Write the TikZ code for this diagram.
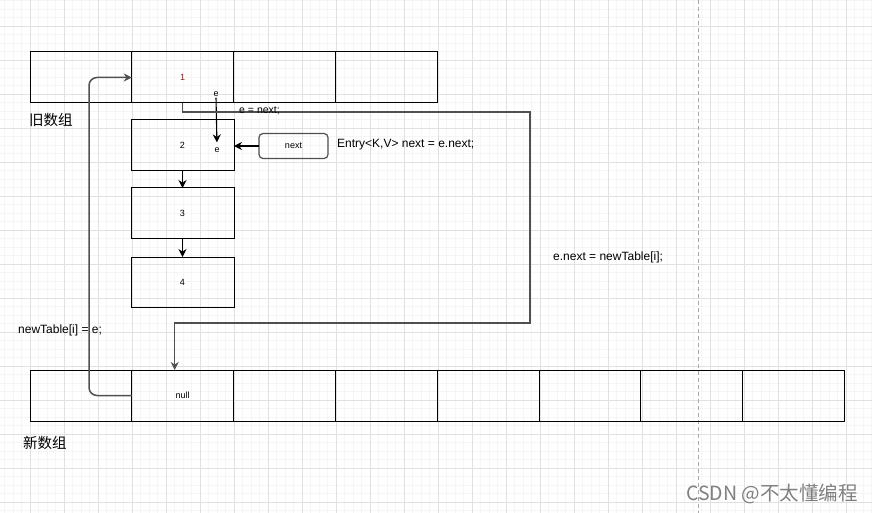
\documentclass[tikz,border=0pt]{standalone}
\usepackage{fontspec}
\setmainfont{Liberation Sans}
\newfontfamily\cjk{Noto Sans CJK SC}
\usetikzlibrary{arrows.meta}
\definecolor{minorc}{RGB}{245,245,245}
\definecolor{majorc}{RGB}{225,225,225}
\definecolor{dashc}{RGB}{170,170,170}
\definecolor{linkc}{RGB}{80,80,80}
\definecolor{numc}{RGB}{120,40,30}
\tikzset{
  cell/.style={draw=black, line width=1pt, minimum width=101.8pt, minimum height=51pt, inner sep=0pt, outer sep=0pt, anchor=north west, font=\fontsize{9}{10}\selectfont},
  chainbox/.style={draw=black, line width=1pt, minimum width=103pt, minimum height=51pt, inner sep=0pt, outer sep=0pt, anchor=north west, font=\fontsize{9}{10}\selectfont},
  small/.style={inner sep=1pt, font=\fontsize{9}{10}\selectfont},
  label/.style={inner sep=0pt, font=\fontsize{12}{14}\selectfont},
  cjklabel/.style={inner sep=0pt, font=\cjk\fontsize{14.5}{16}\selectfont},
  link/.style={draw=linkc, line width=1.5pt},
  arr/.style={-{Stealth[length=8pt,width=8pt]}},
}
\begin{document}
\begin{tikzpicture}[x=1pt,y=-1pt]
\useasboundingbox (0,0) rectangle (872,513);
\fill[white] (0,0) rectangle (872,513);
% grid
\foreach \i in {0,...,102} {\draw[minorc, line width=0.6pt] (4.5+\i*8.5,0) -- ++(0,513);}
\foreach \i in {0,...,60} {\draw[minorc, line width=0.6pt] (0,0.5+\i*8.5) -- ++(872,0);}
\foreach \i in {0,...,25} {\draw[majorc, line width=0.8pt] (30+\i*34,0) -- ++(0,513);}
\foreach \i in {0,...,14} {\draw[majorc, line width=0.8pt] (0,26.5+\i*34) -- ++(872,0);}
\draw[dashc, line width=0.9pt, dash pattern=on 4pt off 3pt] (698.5,0) -- (698.5,513);

% old array
\node[cell] (o0) at (30,52) {};
\node[cell, text=numc] (o1) at (o0.north east) {1};
\node[cell] (o2) at (o1.north east) {};
\node[cell] (o3) at (o2.north east) {};
\node[small] (eo) at (216,94) {e};
\node[cjklabel, anchor=west] (oldlbl) at (29,120) {旧数组};

% chain
\node[chainbox] (b2) at (131,120) {2};
\node[small] (eb) at (217,150) {e};
\node[chainbox, minimum height=50pt] (b3) at (131,188) {3};
\node[chainbox, minimum height=50pt] (b4) at (131,257) {4};
\draw[arr, draw=black, line width=1.1pt] (b2.south) -- (b3.north);
\draw[arr, draw=black, line width=1.1pt] (b3.south) -- (b4.north);
\draw[arr, draw=black, line width=1.1pt, shorten >=4pt] (eo.south) -- (eb.north);

\node[draw=linkc, line width=1.2pt, rounded corners=4pt, minimum width=69pt, minimum height=25pt, inner sep=0pt, outer sep=0pt, font=\fontsize{9}{10}\selectfont] (nx) at (293.5,146) {next};
\draw[arr, draw=black, line width=1.1pt] (nx.west) -- (b2.east |- nx.west);
\node[label, anchor=west] (entry) at (337,145) {Entry<K,V> next = e.next;};

% new array
\node[cell] (n0) at (30,370) {};
\node[cell] (n1) at (n0.north east) {null};
\node[cell] (n2) at (n1.north east) {};
\node[cell] (n3) at (n2.north east) {};
\node[cell] (n4) at (n3.north east) {};
\node[cell] (n5) at (n4.north east) {};
\node[cell] (n6) at (n5.north east) {};
\node[cell] (n7) at (n6.north east) {};
\node[cjklabel, anchor=west] (newlbl) at (23,443) {新数组};

% e = next loop
\coordinate (r1) at (530,112);
\coordinate (r2) at (530,323);
\draw[link, arr] (o1.south) |- (r1) -- (r2) -| ([xshift=-8pt]n1.north);
\node[label, font=\fontsize{10.5}{12}\selectfont, anchor=west] (enext) at (239,111) {e = next;};
\node[label, anchor=west] (enew) at (553,257) {e.next = newTable[i];};

% newTable[i] = e loop
\coordinate (c3) at (89,200);
\draw[link, arr, rounded corners=8pt] (n1.west) -| (c3) |- (o1.west);
\node[label, anchor=west] (ntl) at (18,330) {newTable[i] = e;};

% watermark
\node[inner sep=0pt, anchor=west, text=black!50, font=\cjk\fontsize{19.5}{21}\selectfont] (wm) at (686,494) {CSDN @不太懂编程};
\end{tikzpicture}
\end{document}
